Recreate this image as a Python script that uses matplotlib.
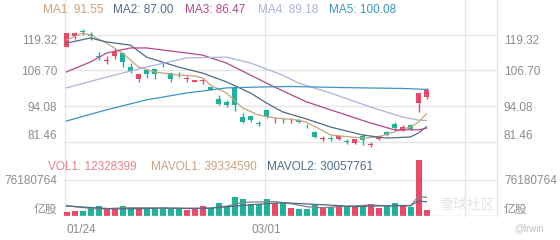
import matplotlib
matplotlib.use("Agg")
import matplotlib.pyplot as plt
from matplotlib.lines import Line2D

# candles (index 0 = 01/24)
opens = [115.0, 118.8, 120.5, 119.5, 111.7, 110.0, 111.8, 112.7, 108.0, 103.6,
         106.9, 107.1, 108.8, 105.7, 105.6, 103.6, 102.7, 103.0, 100.8, 96.6,
         95.8, 100.5, 90.3, 90.75, 88.3, 92.9, 89.2, 89.4, 89.2, 89.4,
         87.3, 85.3, 82.8, 83.0, 82.8, 81.8, 81.4, 83.7, 80.6, 82.6,
         85.25, 87.8, 85.6, 87.6, 95.4, 97.5]
closes = [119.7, 119.9, 120.2, 118.9, 111.3, 110.3, 113.3, 109.8, 106.6, 105.5,
          105.5, 105.5, 108.5, 103.6, 105.3, 103.8, 103.3, 103.3, 99.9, 95.0,
          94.6, 94.6, 88.8, 89.3, 88.0, 90.3, 89.4, 89.2, 89.4, 88.6,
          87.1, 83.5, 83.0, 82.8, 83.7, 81.6, 82.6, 82.3, 80.8, 83.7,
          84.1, 86.4, 87.0, 86.1, 98.7, 99.9]
highs = [119.8, 120.1, 121.3, 120.2, 113.1, 111.8, 114.5, 112.9, 109.4, 105.6,
         107.0, 107.2, 109.3, 105.8, 106.2, 104.6, 103.5, 104.1, 100.9, 98.1,
         96.4, 100.6, 91.7, 90.8, 89.0, 93.0, 90.5, 90.0, 90.0, 89.6,
         87.9, 85.5, 83.9, 83.8, 83.9, 82.6, 82.8, 84.3, 81.5, 84.0,
         85.6, 88.5, 87.5, 88.0, 98.9, 100.5]
lows = [115.0, 117.7, 119.1, 117.4, 110.4, 109.0, 110.6, 108.0, 105.9, 102.6,
        104.0, 103.6, 107.8, 102.8, 104.5, 102.7, 102.6, 101.9, 99.8, 94.6,
        93.9, 92.5, 88.2, 88.8, 87.4, 90.2, 88.3, 88.4, 88.4, 88.3,
        86.6, 83.2, 82.0, 82.0, 82.3, 80.9, 81.1, 80.6, 79.8, 82.4,
        83.7, 85.6, 85.4, 85.8, 92.3, 96.6]
volumes = [7800000, 11200000, 11200000, 16300000, 21800000, 16300000, 16300000,
           21800000, 16300000, 16300000, 16300000, 16300000, 16300000, 16300000,
           16300000, 12700000, 17600000, 21200000, 16300000, 26900000, 21800000,
           39600000, 35300000, 25400000, 25400000, 35300000, 26900000, 26900000,
           16300000, 14200000, 14200000, 24000000, 18400000, 18400000, 24000000,
           22000000, 22000000, 24000000, 24500000, 17200000, 21200000, 27500000,
           21200000, 19000000, 118500000, 12328399]

# moving average lines (index, value)
ma1_idx = [0, 2, 3, 5, 7, 9, 11, 14, 16, 17, 18, 20, 22, 24, 26, 29, 30, 33, 37, 39, 41, 43, 44, 45]
ma1_val = [117.4, 119.8, 119.1, 116.3, 112.8, 107.9, 106.2, 105.1, 104.8, 104.1, 101.6, 98.8,
           93.6, 91.1, 90.1, 89.3, 88.6, 84.1, 83.0, 83.4, 85.2, 86.9, 88.6, 91.55]
ma2_idx = [0, 3, 5, 8, 10, 14, 17, 20, 23, 25, 27, 30, 33, 37, 40, 43, 44, 45]
ma2_val = [116.3, 118.1, 116.7, 115.6, 111.4, 107.9, 105.8, 102.7, 98.8, 95.3, 92.2, 89.7,
           86.9, 84.1, 83.0, 83.4, 84.8, 87.00]
ma3_idx = [0, 3, 5, 8, 10, 14, 17, 20, 23, 26, 30, 33, 38, 41, 44, 45]
ma3_val = [106.2, 109.7, 112.8, 114.6, 114.6, 113.2, 112.1, 109.3, 105.1, 100.9, 95.7, 92.9,
           88.3, 85.9, 85.9, 86.47]
ma4_idx = [0, 5, 10, 15, 20, 23, 27, 29, 33, 38, 42, 44, 45]
ma4_val = [100.6, 104.4, 107.9, 111.1, 111.4, 109.3, 105.1, 102.3, 98.8, 93.9, 90.4, 89.3, 89.18]
ma5_idx = [0, 5, 10, 15, 20, 24, 28, 35, 42, 45]
ma5_val = [89.0, 92.9, 96.4, 98.8, 100.6, 100.9, 101.1, 100.7, 100.4, 100.08]

mavol1_idx = [0, 2, 4, 6, 8, 10, 12, 14, 16, 18, 20, 22, 24, 26, 28, 30, 32, 34, 36, 38, 40, 42, 43, 44, 45]
mavol1_val = [22.0, 18.0, 14.0, 16.5, 17.5, 17.4, 16.3, 16.3, 15.8, 16.8, 20.8, 28.9, 29.7,
              30.6, 26.2, 19.7, 17.4, 19.8, 21.4, 23.3, 21.8, 22.3, 21.3, 41.5, 39.33459]
mavol2_idx = [0, 3, 6, 9, 12, 15, 18, 21, 24, 27, 30, 33, 36, 39, 42, 43, 44, 45]
mavol2_val = [21.0, 18.0, 15.0, 15.5, 17.1, 16.2, 16.6, 21.0, 24.9, 28.1, 25.5, 23.0, 19.8,
              21.2, 22.1, 22.1, 31.7, 30.057761]

ma_labels = ["MA1: 91.55", "MA2: 87.00", "MA3: 86.47", "MA4: 89.18", "MA5: 100.08"]
vol_labels = ["VOL1: 12328399", "MAVOL1: 39334590", "MAVOL2: 30057761"]
price_ticks = [119.32, 106.70, 94.08, 81.46]
vol_tick = 76180764
date_idx = [0, 25]
date_labels = ["01/24", "03/01"]

RED = "#ec4868"
GREEN = "#1db39b"
MA_COLORS = ["#c9a27e", "#4f6b88", "#b4478a", "#a9b2dc", "#3b95c0"]
VOL_TEXT_COLORS = ["#ec7f8c", "#c9a27e", "#4f6b88"]
GRID = "#e6e6e6"
TXT = "#8c8c8c"

plt.rcParams["font.family"] = ["Liberation Sans", "Noto Sans CJK SC", "DejaVu Sans"]

W, H = 560, 240


def fx(x):
    return x / W


def fy(y):
    return 1 - y / H


fig = plt.figure(figsize=(W / 100, H / 100), dpi=100)
fig.patch.set_facecolor("white")

# price panel: 119.32 at y=34.5px, 36px per 12.62
px_per = 36 / 12.62
top_px, bot_px = 20, 148
ax_p = fig.add_axes([fx(64), fy(bot_px), (497 - 64) / W, (bot_px - top_px) / H])
ax_p.set_ylim(119.32 - (bot_px - 34.5) / px_per, 119.32 + (34.5 - top_px) / px_per)
xlim = ((64 - 66.5) / 8, (497 - 66.5) / 8)
ax_p.set_xlim(*xlim)

# volume panel
ax_v = fig.add_axes([fx(64), fy(216), (497 - 64) / W, (216 - 150) / H])
ax_v.set_ylim(0, vol_tick * (216 - 150) / 36)
ax_v.set_xlim(*xlim)

for ax in (ax_p, ax_v):
    ax.patch.set_alpha(0)
    for s in ax.spines.values():
        s.set_visible(False)
    ax.tick_params(length=0, colors=TXT, labelsize=8.5)

# vertical grid lines and right separator
for xp in (65, 265, 465, 497):
    fig.add_artist(Line2D([fx(xp), fx(xp)], [fy(0), fy(216)], transform=fig.transFigure,
                          color=GRID, lw=0.9, zorder=0))

# price grid + labels
ax_p.set_yticks(price_ticks, [f"{v:.2f}" for v in price_ticks])
ax_p.tick_params(axis="y", labelleft=True, labelright=True, pad=5)
ax_p.set_xticks([])
for v in price_ticks:
    ax_p.axhline(v, color=GRID, lw=1.0, zorder=0)
ticks = ax_p.yaxis.get_major_ticks()
ticks[0].label1.set_va("top"); ticks[0].label2.set_va("top")
ticks[-1].label1.set_va("bottom"); ticks[-1].label2.set_va("bottom")

# candles
for i in range(len(opens)):
    o, c = opens[i], closes[i]
    col = RED if c >= o else GREEN
    ax_p.vlines(i, lows[i], highs[i], color=col, lw=1.0, zorder=3)
    h = max(abs(c - o), 0.3)
    ax_p.bar(i, h, bottom=min(o, c), width=0.62, color=col, zorder=3)

for idx, val, col in zip([ma1_idx, ma2_idx, ma3_idx, ma4_idx, ma5_idx],
                         [ma1_val, ma2_val, ma3_val, ma4_val, ma5_val], MA_COLORS):
    ax_p.plot(idx, val, color=col, lw=0.9, zorder=4)

# volume
vcols = [RED if closes[i] >= opens[i] else GREEN for i in range(len(volumes))]
ax_v.bar(range(len(volumes)), volumes, width=0.75, color=vcols, zorder=3)
ax_v.plot(mavol1_idx, [v * 1e6 for v in mavol1_val], color="#8a7f86", lw=0.9, zorder=4)
ax_v.plot(mavol2_idx, [v * 1e6 for v in mavol2_val], color="#4f6b88", lw=0.9, zorder=4)
ax_v.axhline(vol_tick, color=GRID, lw=1.0, zorder=0)
ax_v.axhline(0, color="#d2d2d2", lw=1.0, zorder=5)
ax_v.set_yticks([0, vol_tick], ["亿股", str(vol_tick)])
ax_v.tick_params(axis="y", labelleft=True, labelright=True, pad=5)
vt = ax_v.yaxis.get_major_ticks()
vt[0].label1.set_va("bottom"); vt[0].label2.set_va("bottom")
ax_v.set_xticks(date_idx, date_labels)
ax_v.tick_params(axis="x", pad=6)
xl = ax_v.get_xticklabels()
xl[0].set_ha("left")

# legends
for xp, txt, col in zip([43, 113, 185, 258, 329], ma_labels, MA_COLORS):
    fig.text(fx(xp), fy(10), txt, color=col, fontsize=8.5, va="center", ha="left")
for xp, txt, col in zip([48, 151, 267], vol_labels, VOL_TEXT_COLORS):
    fig.text(fx(xp), fy(167), txt, color=col, fontsize=8.5, va="center", ha="left")

# watermark
fig.text(fx(440), fy(205), "雪球社区", color="#e4e4e4", fontsize=10, va="center", ha="left", zorder=0)
fig.text(fx(514), fy(228), "@lrwin", color="#c4c4c4", fontsize=7, va="center", ha="left")

fig.savefig("out.png", dpi=100)
